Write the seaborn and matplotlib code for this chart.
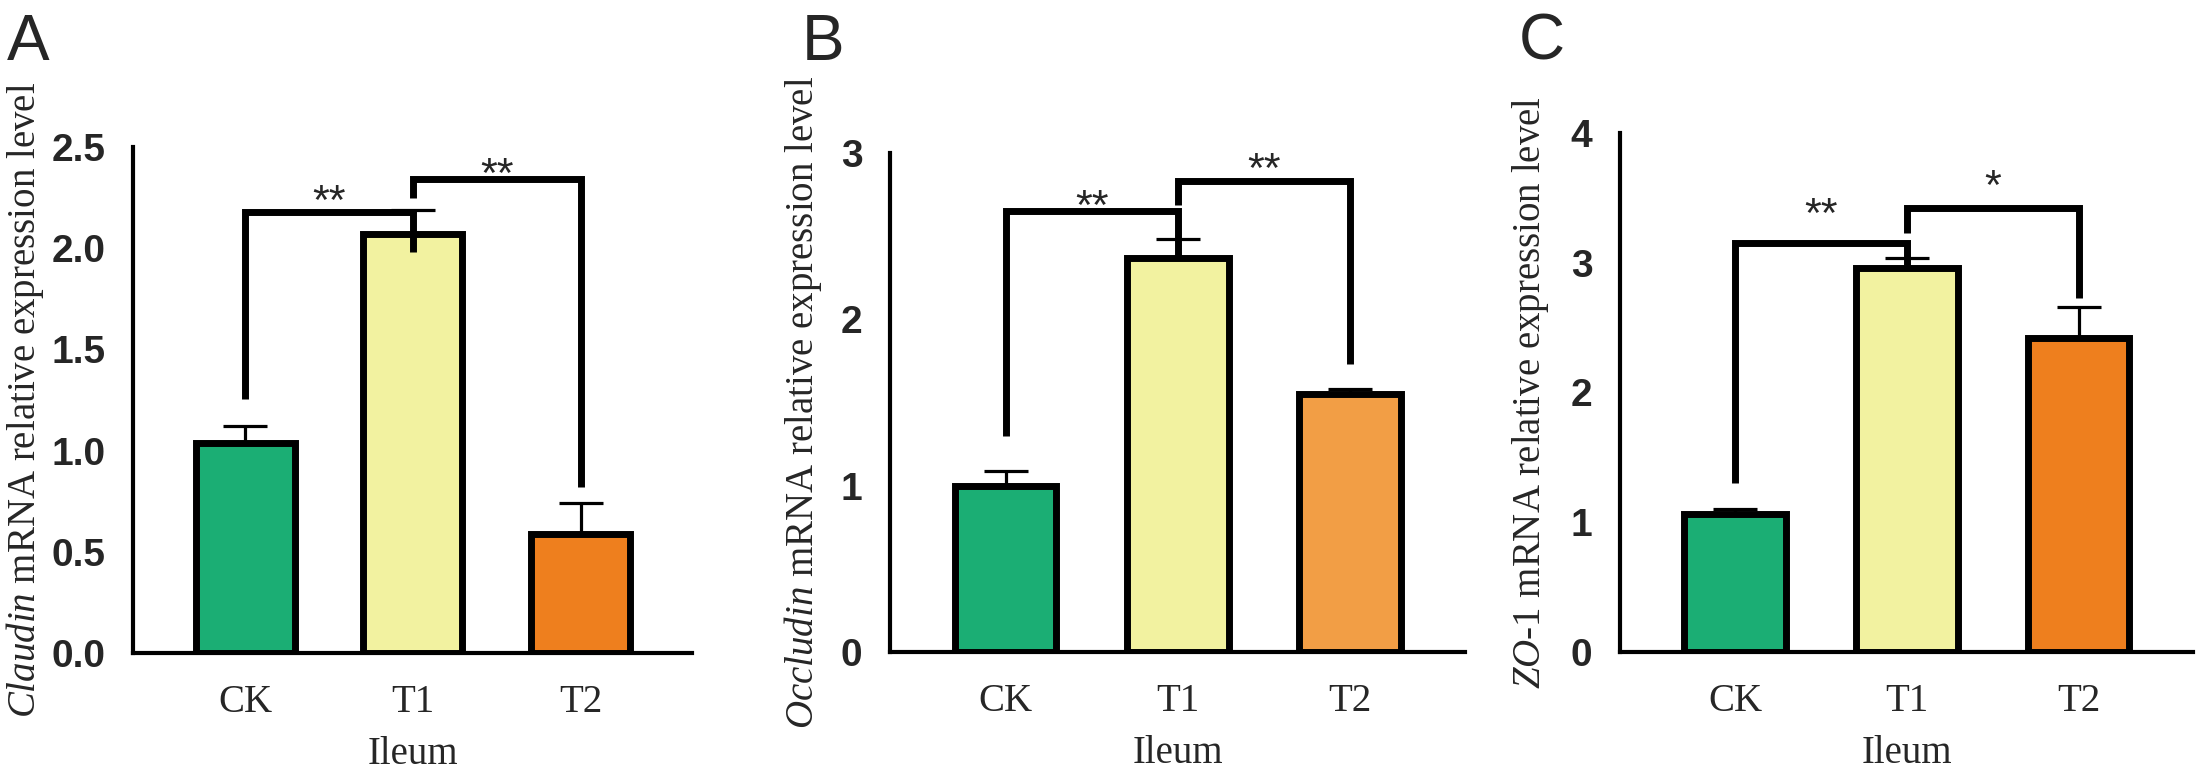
import matplotlib
matplotlib.use("Agg")
import matplotlib.pyplot as plt
import seaborn as sns
import pandas as pd
import numpy as np

# ---------------- data ----------------
groups = ["CK", "T1", "T2"]
xlabel_text = "Ileum"

claudin_mean = [1.04, 2.07, 0.59]
claudin_err = [0.08, 0.12, 0.15]
occludin_mean = [1.00, 2.37, 1.55]
occludin_err = [0.09, 0.11, 0.03]
zo1_mean = [1.06, 2.96, 2.42]
zo1_err = [0.04, 0.08, 0.24]

# significance brackets: (left group, right group, bracket level, left leg end, right leg end, star level, label)
claudin_sig = [(0, 1, 2.18, 1.255, 1.98, 2.29, "**"), (1, 2, 2.34, 2.25, 0.82, 2.42, "**")]
occludin_sig = [(0, 1, 2.65, 1.30, 2.38, 2.75, "**"), (1, 2, 2.83, 2.69, 1.73, 2.97, "**")]
zo1_sig = [(0, 1, 3.15, 1.30, 2.98, 3.46, "**"), (1, 2, 3.42, 3.23, 2.73, 3.68, "*")]

claudin_ticks = [0.0, 0.5, 1.0, 1.5, 2.0, 2.5]
occludin_ticks = [0, 1, 2, 3]
zo1_ticks = [0, 1, 2, 3, 4]

panel_letters = ["A", "B", "C"]
gene_names = ["Claudin", "Occludin", "ZO\u20101"]

green = "#1bae74"
yellow = "#f2f2a0"
orange = "#ee7f1e"
orange_light = "#f29e45"
palettes = [[green, yellow, orange], [green, yellow, orange_light], [green, yellow, orange]]

# ---------------- style ----------------
sns.set_theme(style="white")
plt.rcParams["font.family"] = ["Liberation Sans", "DejaVu Sans"]
plt.rcParams["mathtext.fontset"] = "custom"
plt.rcParams["mathtext.rm"] = "Liberation Serif"
plt.rcParams["mathtext.it"] = "Liberation Serif:italic"

fig = plt.figure(figsize=(21.97, 7.72), dpi=100)
W, H = 2197.0, 772.0

# axes rectangles in pixels: left, right, top, bottom
rects = [(133, 692, 147, 653), (890, 1465, 153, 652), (1620, 2193, 133, 652)]
label_x = [-0.193, -0.151, -0.157]
letter_x = [7, 802, 1519]

means_all = [claudin_mean, occludin_mean, zo1_mean]
errs_all = [claudin_err, occludin_err, zo1_err]
sigs_all = [claudin_sig, occludin_sig, zo1_sig]
ticks_all = [claudin_ticks, occludin_ticks, zo1_ticks]
tickfmt = ["{:.1f}", "{:.0f}", "{:.0f}"]

AX_LW = 3.0
EDGE_LW = 5.0
BR_LW = 5.0

for i in range(3):
    l, r, t, b = rects[i]
    ax = fig.add_axes([l / W, 1 - b / H, (r - l) / W, (b - t) / H])
    df = pd.DataFrame({"group": groups, "value": means_all[i]})
    sns.barplot(data=df, x="group", y="value", hue="group", palette=palettes[i],
                order=groups, hue_order=groups, width=0.59, errorbar=None,
                edgecolor="black", linewidth=EDGE_LW, saturation=1, legend=False, ax=ax)
    for p in ax.patches:
        p.set_zorder(2)
    xs = np.arange(len(groups))
    ax.errorbar(xs, means_all[i], yerr=[np.zeros(len(groups)), errs_all[i]], fmt="none",
                ecolor="black", elinewidth=2.3, capsize=16, capthick=2.3, zorder=1)
    for (g1, g2, lev, l1, l2, sl, txt) in sigs_all[i]:
        ax.plot([g1, g1, g2, g2], [l1, lev, lev, l2], color="black", lw=BR_LW,
                solid_joinstyle="miter", solid_capstyle="butt", zorder=3, clip_on=False)
        ax.annotate(txt, xy=((g1 + g2) / 2, sl), xytext=(0, -17.5), textcoords="offset points",
                    ha="center", va="baseline", fontsize=31, fontfamily="Liberation Sans",
                    annotation_clip=False)
    ticks = ticks_all[i]
    ax.set_ylim(0, ticks[-1])
    ax.set_xlim(-0.67, 2.665)
    ax.set_yticks(ticks)
    ax.set_yticklabels([tickfmt[i].format(v) for v in ticks], fontsize=28, fontweight="bold",
                       fontfamily="Liberation Sans")
    ax.set_xticks(xs)
    ax.set_xticklabels(groups, fontsize=28, fontfamily="Liberation Serif")
    ax.tick_params(axis="both", direction="out", length=14.4, width=AX_LW, color="black")
    ax.tick_params(axis="y", pad=5.5)
    ax.tick_params(axis="x", pad=8)
    for s in ["top", "right"]:
        ax.spines[s].set_visible(False)
    for s in ["left", "bottom"]:
        ax.spines[s].set_linewidth(AX_LW)
        ax.spines[s].set_color("black")
    ax.set_xlabel(xlabel_text, fontsize=28, fontfamily="Liberation Serif", labelpad=11)
    ax.set_ylabel(r"$\mathit{" + gene_names[i] + r"}$ mRNA relative expression level",
                  fontsize=28, fontfamily="Liberation Serif", va="center")
    ax.yaxis.set_label_coords(label_x[i], 0.5)
    ax.grid(False)
    ax.set_facecolor("white")
    fig.text(letter_x[i] / W, 1 - 60 / H, panel_letters[i], fontsize=46,
             fontfamily="Liberation Sans", ha="left", va="baseline")

fig.savefig("out.png", dpi=100, facecolor="white")
